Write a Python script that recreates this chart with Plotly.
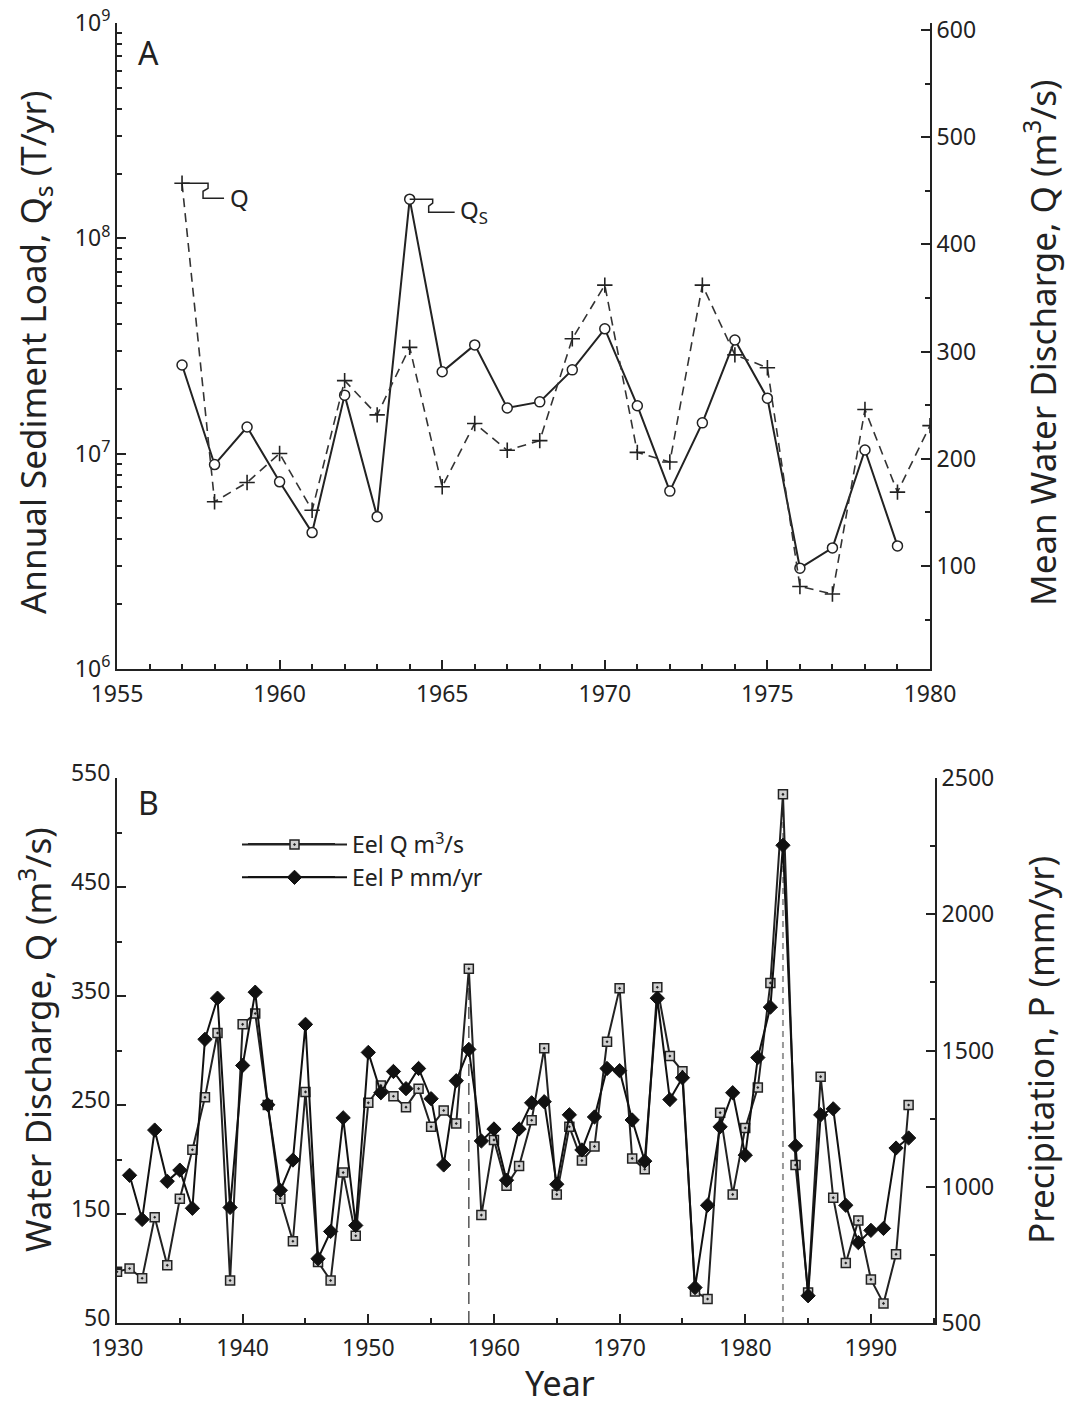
import plotly.graph_objects as go
import numpy as np

# ---------------- Panel A data ----------------
years_qs_a = list(range(1957, 1980))
qs_a = [2.58e7, 8.9e6, 1.33e7, 7.4e6, 4.3e6, 1.87e7, 5.1e6, 1.52e8, 2.4e7, 3.2e7,
        1.63e7, 1.74e7, 2.45e7, 3.8e7, 1.67e7, 6.7e6, 1.39e7, 3.37e7, 1.81e7,
        2.94e6, 3.65e6, 1.04e7, 3.73e6]
years_q_a = list(range(1957, 1981))
q_a = [457, 160, 178, 205, 152, 273, 241, 304, 174, 233, 208, 217, 312, 362,
       206, 197, 362, 297, 285, 81, 74, 246, 169, 231]

# ---------------- Panel B data ----------------
years_q_b = list(range(1930, 1994))
q_b = [97, 100, 91, 147, 103, 164, 209, 257, 316, 89,
       324, 334, 250, 164, 125, 262, 106, 89, 188, 130,
       252, 268, 258, 248, 265, 230, 245, 233, 375, 149,
       218, 176, 194, 236, 302, 168, 230, 199, 212, 308,
       357, 201, 191, 358, 295, 281, 79, 72, 243, 168,
       229, 266, 362, 535, 195, 78, 276, 165, 105, 144,
       90, 68, 113, 250]
years_p_b = list(range(1931, 1994))
p_b = [1042, 880, 1208, 1020, 1061, 921, 1541, 1692, 924,
       1445, 1714, 1301, 987, 1098, 1596, 736, 836, 1253, 858,
       1493, 1345, 1423, 1360, 1434, 1323, 1080, 1389, 1504, 1168,
       1212, 1024, 1212, 1308, 1312, 1009, 1264, 1135, 1256, 1434,
       1426, 1245, 1094, 1692, 1320, 1400, 630, 932, 1220, 1345,
       1116, 1474, 1659, 2253, 1150, 600, 1264, 1286, 932, 795,
       840, 847, 1142, 1179]
marked_years_b = [1958, 1983]

W, H = 1070, 1406
FONT = "Noto Sans"
INK = "#222222"

def px_x(v):
    return v / W

def px_y(v):
    return 1 - v / H

fig = go.Figure()

# Panel A traces
fig.add_trace(go.Scatter(
    x=years_qs_a, y=qs_a, mode="lines+markers", xaxis="x", yaxis="y",
    line=dict(color=INK, width=2),
    marker=dict(symbol="circle", size=10, color="white", line=dict(color=INK, width=1.5)),
    showlegend=False))
fig.add_trace(go.Scatter(
    x=years_q_a, y=q_a, mode="lines+markers", xaxis="x", yaxis="y2",
    line=dict(color="#333333", width=1.6, dash="9px,6px"),
    marker=dict(symbol="cross-thin", size=11, line=dict(color=INK, width=1.6)),
    showlegend=False))

# Panel B traces
fig.add_trace(go.Scatter(
    x=years_q_b, y=q_b, mode="lines+markers", xaxis="x2", yaxis="y3",
    name="Eel Q m<sup>3</sup>/s",
    line=dict(color=INK, width=2),
    marker=dict(symbol="square-dot", size=9, color="#d0d0d0", line=dict(color=INK, width=1.5))))
fig.add_trace(go.Scatter(
    x=years_p_b, y=p_b, mode="lines+markers", xaxis="x2", yaxis="y4",
    name="Eel P mm/yr",
    line=dict(color="#111111", width=2),
    marker=dict(symbol="diamond", size=11, color="#111111", line=dict(color="#111111", width=1))))

tickfont = dict(family=FONT, size=23, color=INK)
common = dict(showline=True, linecolor=INK, linewidth=2, ticks="inside", ticklen=9,
              tickwidth=1.5, tickcolor=INK, showgrid=False, zeroline=False, tickfont=tickfont,
              automargin=False)

log_minor = [k * 10 ** d for d in range(6, 9) for k in range(2, 10)]

fig.update_layout(
    width=W, height=H,
    margin=dict(l=0, r=0, t=0, b=0, autoexpand=False),
    paper_bgcolor="white", plot_bgcolor="white",
    font=dict(family=FONT, color=INK),
    xaxis=dict(domain=[px_x(117), px_x(930)], anchor="y", range=[1955, 1980],
               tick0=1955, dtick=5, ticklabelstandoff=3,
               minor=dict(dtick=1, ticks="inside", ticklen=5, tickwidth=1.5, tickcolor=INK),
               **common),
    yaxis=dict(domain=[px_y(669), px_y(23)], anchor="x", type="log", range=[6, 9],
               tickvals=[1e6, 1e7, 1e8, 1e9],
               ticktext=["10<sup>6</sup>", "10<sup>7</sup>", "10<sup>8</sup>", "10<sup>9</sup>"],
               minor=dict(tickvals=log_minor, ticks="inside", ticklen=5, tickwidth=1.5, tickcolor=INK),
               **common),
    yaxis2=dict(overlaying="y", side="right", anchor="x", range=[4, 606.5],
                tick0=0, dtick=100,
                minor=dict(dtick=50, ticks="inside", ticklen=5, tickwidth=1.5, tickcolor=INK),
                **common),
    xaxis2=dict(domain=[px_x(117), px_x(935)], anchor="y3", range=[1930, 1995.1],
                tick0=1930, dtick=10, ticklabelstandoff=3,
                minor=dict(dtick=5, ticks="inside", ticklen=5, tickwidth=1.5, tickcolor=INK),
                **common),
    yaxis3=dict(domain=[px_y(1323), px_y(778)], anchor="x2", range=[50, 550],
                tick0=50, dtick=100, ticklabelshift=-5,
                minor=dict(dtick=50, ticks="inside", ticklen=5, tickwidth=1.5, tickcolor=INK),
                **common),
    yaxis4=dict(overlaying="y3", side="right", anchor="x2", range=[500, 2500],
                tick0=500, dtick=500,
                minor=dict(dtick=250, ticks="inside", ticklen=5, tickwidth=1.5, tickcolor=INK),
                **common),
    legend=dict(x=px_x(237), y=px_y(823), xanchor="left", yanchor="top",
                font=dict(family=FONT, size=23, color=INK), bgcolor="rgba(0,0,0,0)",
                itemwidth=105, tracegroupgap=0),
)

shapes = []
# leader lines for the Q and Qs labels
shapes.append(dict(type="path", xref="x", yref="y2", xsizemode="pixel", ysizemode="pixel",
                   xanchor=years_q_a[0], yanchor=q_a[0],
                   path="M 0,0 L 26,0 L 26,-5 L 21,-8 L 21,-15 L 42,-15",
                   line=dict(color=INK, width=1.5)))
i_peak = int(np.argmax(qs_a))
shapes.append(dict(type="path", xref="x", yref="y", xsizemode="pixel", ysizemode="pixel",
                   xanchor=years_qs_a[i_peak], yanchor=qs_a[i_peak],
                   path="M 0,0 L 23,0 L 23,-4 L 19,-7 L 19,-13 L 45,-13",
                   line=dict(color=INK, width=1.5)))
# dashed marker lines in panel B
dash_styles = [dict(color="#555555", width=1.5, dash="12px,7px"),
               dict(color="#999999", width=2, dash="6px,5px")]
for yr, st in zip(marked_years_b, dash_styles):
    shapes.append(dict(type="line", xref="x2", yref="y3", x0=yr, x1=yr, y0=50,
                       y1=q_b[years_q_b.index(yr)], line=st, layer="below"))
# longer legend sample lines (legend decoration)
for ly in (844, 877):
    shapes.append(dict(type="line", xref="paper", yref="paper", x0=px_x(248), x1=px_x(335),
                       y0=px_y(ly), y1=px_y(ly), line=dict(color=INK, width=2)))
fig.update_layout(shapes=shapes)

ann = []
def add_text(text, x, y, size, angle=0):
    ann.append(dict(text=text, x=px_x(x), y=px_y(y), xref="paper", yref="paper",
                    xanchor="center", yanchor="middle", textangle=angle, showarrow=False,
                    font=dict(family=FONT, size=size, color=INK)))

add_text("A", 148, 52, 32)
add_text("B", 148, 802, 32)
ann.append(dict(text="Q", x=years_q_a[0], y=q_a[0], xref="x", yref="y2", showarrow=False,
                xanchor="left", yanchor="middle", xshift=46, yshift=-14,
                font=dict(family=FONT, size=24, color=INK)))
ann.append(dict(text="Q<sub>S</sub>", x=years_qs_a[i_peak], y=np.log10(qs_a[i_peak]),
                xref="x", yref="y", showarrow=False, xanchor="left", yanchor="middle",
                xshift=48, yshift=-12, font=dict(family=FONT, size=24, color=INK)))
add_text("Annual Sediment Load, Q<sub>s</sub> (T/yr)", 35, 352, 35, -90)
add_text("Mean Water Discharge, Q (m<sup>3</sup>/s)", 1040, 343, 35, -90)
add_text("Water Discharge, Q (m<sup>3</sup>/s)", 35, 1040, 35, -90)
add_text("Precipitation, P (mm/yr)", 1040, 1050, 35, -90)
add_text("Year", 560, 1383, 34)
fig.update_layout(annotations=ann)

fig.write_html("out.html")
